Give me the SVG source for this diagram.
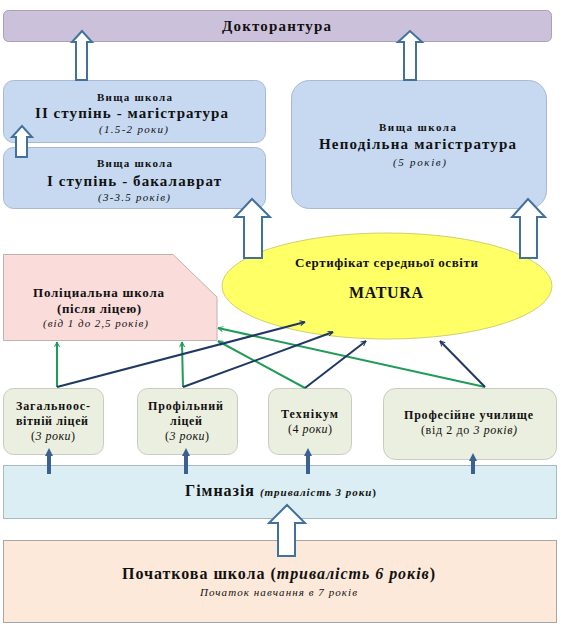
<svg xmlns="http://www.w3.org/2000/svg" width="561" height="627" viewBox="0 0 561 627" font-family="'Liberation Serif', 'DejaVu Serif', serif">
<defs>
<style>
text{font-family:'Liberation Serif','DejaVu Serif',serif;fill:#111;text-anchor:middle}
.b{font-weight:bold}
.i{font-style:italic}
.s11{font-size:11px}
.s12{font-size:12px}
.s13{font-size:13px}
.s15{font-size:15px}
.s16{font-size:16px}
.hollow{fill:#fff;stroke:#41719c;stroke-width:2;stroke-linejoin:miter}
.green{stroke:#1f9c57;stroke-width:2;fill:none}
.navy{stroke:#1f3864;stroke-width:2;fill:none}
.thick{stroke:#3a6190;stroke-width:4;fill:none}
.blue{fill:#c6d9f1;stroke:#a7bad4;stroke-width:1}
.lic{fill:#ebefdf;stroke:#c8cbbd;stroke-width:1}
</style>
<marker id="ag" viewBox="0 0 12 12" refX="11" refY="6" markerWidth="6" markerHeight="6" markerUnits="userSpaceOnUse" orient="auto">
<path d="M1,1 L11,6 L1,11" fill="none" stroke="#1f9c57" stroke-width="2"/>
</marker>
<marker id="an" viewBox="0 0 12 12" refX="11" refY="6" markerWidth="6" markerHeight="6" markerUnits="userSpaceOnUse" orient="auto">
<path d="M1,1 L11,6 L1,11" fill="none" stroke="#1f3864" stroke-width="2"/>
</marker>
<marker id="at" viewBox="0 0 10 10" refX="5" refY="5" markerWidth="8" markerHeight="8" markerUnits="userSpaceOnUse" orient="auto">
<path d="M0,0 L10,5 L0,10 Z" fill="#3a6190"/>
</marker>
</defs>

<g id="doktorantura">
<rect x="3.5" y="10.5" width="548" height="31" rx="5" fill="#ccc1da" stroke="#aaa0b8"/>
<text x="276.5" y="31" class="b s15" textLength="109" lengthAdjust="spacing">Докторантура</text>
</g>

<g id="magistratura2">
<rect x="3.5" y="80.5" width="262" height="62" rx="10" class="blue"/>
<text x="134.5" y="101" class="b s11" textLength="75" lengthAdjust="spacing">Вища школа</text>
<text x="131.5" y="118" class="b s15" textLength="193" lengthAdjust="spacing">II ступінь - магістратура</text>
<text x="133.5" y="133" class="i s11" textLength="69" lengthAdjust="spacing">(1.5-2  роки)</text>
</g>

<g id="bakalavrat">
<rect x="3.5" y="147.5" width="262" height="61" rx="10" class="blue"/>
<text x="134.5" y="167" class="b s11" textLength="75" lengthAdjust="spacing">Вища школа</text>
<text x="134" y="186" class="b s15" textLength="174" lengthAdjust="spacing">I ступінь - бакалаврат</text>
<text x="134" y="201" class="i s11" textLength="72" lengthAdjust="spacing">(3-3.5  років)</text>
</g>

<g id="nepodilna">
<rect x="291.5" y="80.5" width="255" height="128" rx="18" class="blue"/>
<text x="417.5" y="131" class="b s11" textLength="77" lengthAdjust="spacing">Вища школа</text>
<text x="417.5" y="149" class="b s15" textLength="197" lengthAdjust="spacing">Неподільна магістратура</text>
<text x="419.5" y="166" class="i s11" textLength="53" lengthAdjust="spacing">(5  років)</text>
</g>

<g id="matura">
<ellipse cx="387" cy="286" rx="165" ry="53" fill="#ffff66" stroke="#d0d070"/>
<text x="386.5" y="267" class="b s13" textLength="183" lengthAdjust="spacing">Сертифікат середньої освіти</text>
<text x="386" y="298" class="b s16" textLength="74" lengthAdjust="spacing">MATURA</text>
</g>

<g id="policialna">
<path d="M3.5,254.5 H173 L217,297 V340.5 H3.5 Z" fill="#fadcda" stroke="#bfb2b1"/>
<text x="98.5" y="297" class="b s13" textLength="131" lengthAdjust="spacing">Поліциальна  школа</text>
<text x="99" y="313" class="b s13" textLength="84" lengthAdjust="spacing">(після ліцею)</text>
<text x="95.5" y="327" class="i s11" textLength="105" lengthAdjust="spacing">(від 1 до 2,5 років)</text>
</g>

<g id="zagalnoosvitnii">
<rect x="3.5" y="388.5" width="100" height="66" rx="10" class="lic"/>
<text x="53" y="410" class="b s12" textLength="74" lengthAdjust="spacing">Загальноос-</text>
<text x="52" y="425" class="b s12" textLength="72" lengthAdjust="spacing">вітній ліцей</text>
<text x="53" y="440" class="s12" textLength="44" lengthAdjust="spacing"><tspan>(</tspan><tspan class="i">3 роки</tspan><tspan>)</tspan></text>
</g>

<g id="profilnyi">
<rect x="137.5" y="388.5" width="100" height="66" rx="10" class="lic"/>
<text x="185.5" y="410" class="b s12" textLength="75" lengthAdjust="spacing">Профільний</text>
<text x="186" y="425" class="b s12" textLength="32" lengthAdjust="spacing">ліцей</text>
<text x="187" y="440" class="s12" textLength="44" lengthAdjust="spacing"><tspan>(</tspan><tspan class="i">3 роки</tspan><tspan>)</tspan></text>
</g>

<g id="tekhnikum">
<rect x="268.5" y="388.5" width="83" height="66" rx="10" class="lic"/>
<text x="309.5" y="418" class="b s12" textLength="57" lengthAdjust="spacing">Технікум</text>
<text x="310" y="433" class="s12" textLength="44" lengthAdjust="spacing"><tspan>(4 </tspan><tspan class="i">роки</tspan><tspan>)</tspan></text>
</g>

<g id="uchylyshche">
<rect x="383.5" y="388.5" width="173" height="71" rx="12" class="lic"/>
<text x="468.5" y="419" class="b s12" textLength="129" lengthAdjust="spacing">Професійне училище</text>
<text x="469" y="434" class="s12" textLength="96" lengthAdjust="spacing"><tspan>(від 2 до </tspan><tspan class="i">3 років)</tspan></text>
</g>

<g id="gimnaziia">
<rect x="3.5" y="465.5" width="553" height="53" fill="#dbeef4" stroke="#a9b9c2"/>
<text x="280.5" y="496" textLength="191" lengthAdjust="spacing"><tspan class="b s16">Гімназія </tspan><tspan class="b i s11">(тривалість 3 роки</tspan><tspan class="b s11">)</tspan></text>
</g>

<g id="pochatkova">
<rect x="3.5" y="540.5" width="553" height="82" fill="#fde9d9" stroke="#a6a6a6"/>
<text x="278.5" y="579" class="b s16" textLength="313" lengthAdjust="spacing">Початкова  школа (<tspan class="i">тривалість  6 років</tspan>)</text>
<text x="278.5" y="596" class="i s11" textLength="157" lengthAdjust="spacing">Початок навчання  в 7 років</text>
</g>

<g id="connectors">
<path class="hollow" d="M76,80 V42 H72 L82,31 L92,42 H87 V80 Z"/>
<path class="hollow" d="M404,80 V42 H398 L410,31 L422,42 H416 V80 Z"/>
<path class="hollow" d="M16,157 V137 H12 L22,126 L32,137 H27 V157 Z"/>
<path class="hollow" d="M244,258 V217 H235 L252,199 L270,217 H262 V258 Z"/>
<path class="hollow" d="M520,258 V217 H512 L528,199 L545,217 H537 V258 Z"/>
<path class="hollow" d="M278,556 V523 H269 L287,505 L305,523 H295 V556 Z"/>

<line class="thick" x1="49" y1="474" x2="49" y2="452" marker-end="url(#at)"/>
<line class="thick" x1="186" y1="474" x2="186" y2="452" marker-end="url(#at)"/>
<line class="thick" x1="308" y1="474" x2="308" y2="452" marker-end="url(#at)"/>
<line class="thick" x1="473" y1="474" x2="473" y2="457" marker-end="url(#at)"/>

<line class="green" x1="57" y1="387" x2="57" y2="342" marker-end="url(#ag)"/>
<line class="green" x1="183" y1="387" x2="182" y2="342" marker-end="url(#ag)"/>
<line class="green" x1="305" y1="388" x2="218" y2="341" marker-end="url(#ag)"/>
<line class="green" x1="485" y1="387" x2="218" y2="328" marker-end="url(#ag)"/>

<line class="navy" x1="57" y1="387" x2="305" y2="322" marker-end="url(#an)"/>
<line class="navy" x1="183" y1="387" x2="333" y2="332" marker-end="url(#an)"/>
<line class="navy" x1="305" y1="388" x2="366" y2="341" marker-end="url(#an)"/>
<line class="navy" x1="485" y1="387" x2="440" y2="341" marker-end="url(#an)"/>
</g>
</svg>
